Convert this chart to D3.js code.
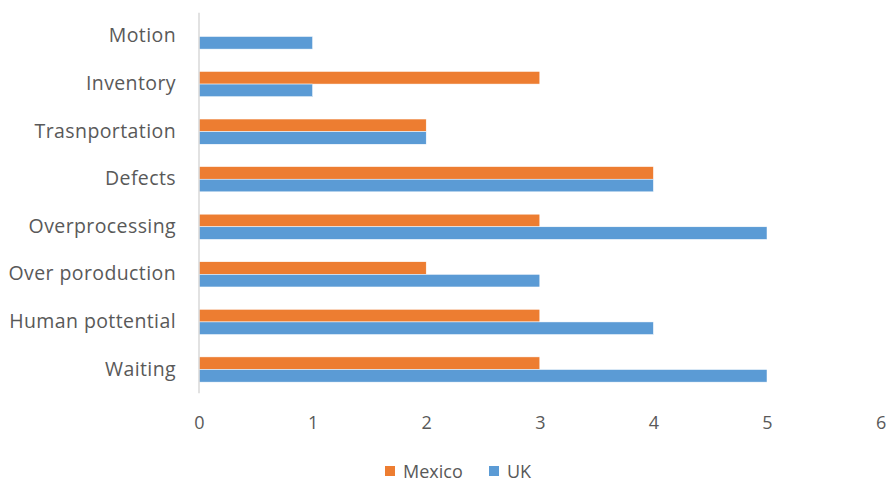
<!DOCTYPE html>
<html><head><meta charset="utf-8">
<script src="https://cdn.jsdelivr.net/npm/d3@7"></script>
<style>body{margin:0;background:#fff;}svg{display:block;font-family:"Open Sans",sans-serif;}</style>
</head><body>
<svg id="c" width="888" height="482"></svg>
<script>
const categories = ["Motion","Inventory","Trasnportation","Defects","Overprocessing","Over poroduction","Human pottential","Waiting"];
const mexico = [0,3,2,4,3,2,3,3];
const uk = [1,1,2,4,5,3,4,5];
const xTicks = [0,1,2,3,4,5,6];
const seriesNames = ["Mexico","UK"];
const colors = {Mexico:"#ED7D31", UK:"#5B9BD5"};

(function(){
const svg = d3.select("#c");
const mL = 199, mR = 880.6, mT = 12.7, mB = 393.3;
const x = d3.scaleLinear().domain([0,6]).range([mL,mR]);
const y = d3.scaleBand().domain(categories).range([mT,mB]).paddingInner(0.47).paddingOuter(0.235);
const ys = d3.scaleBand().domain(seriesNames).range([0,y.bandwidth()]);
const data = {Mexico:mexico, UK:uk};
const textColor = "#595959";

seriesNames.forEach(s=>{
  svg.append("g").selectAll("rect").data(categories).join("rect")
    .attr("x", x(0))
    .attr("y", (c)=>y(c)+ys(s))
    .attr("width",(c,i)=>x(data[s][i])-x(0))
    .attr("height", ys.bandwidth())
    .attr("fill", colors[s])
    .attr("stroke","#fff").attr("stroke-width",0.5);
});

svg.append("line").attr("x1",mL).attr("x2",mL).attr("y1",mT).attr("y2",mB)
  .attr("stroke","#d9d9d9").attr("stroke-width",1.5);

svg.append("g").selectAll("text").data(categories).join("text")
  .attr("x",176).attr("y",c=>y(c)+y.bandwidth()/2-1.5)
  .attr("text-anchor","end").attr("dominant-baseline","central")
  .attr("fill",textColor).attr("font-size",19.5).attr("letter-spacing",0.4).text(d=>d);

const xa = d3.axisBottom(x).tickValues(xTicks).tickFormat(d3.format("d")).tickSize(0).tickPadding(0);
const gx = svg.append("g").attr("transform",`translate(0,${mB+22.5})`).call(xa);
gx.select(".domain").remove();
gx.selectAll("text").attr("fill",textColor).attr("font-size",18).attr("font-family","Open Sans, sans-serif");

const leg = svg.append("g");
const legItems = [{n:"Mexico",x:385},{n:"UK",x:489}];
legItems.forEach(l=>{
  leg.append("rect").attr("x",l.x).attr("y",466).attr("width",10).attr("height",10).attr("fill",colors[l.n]);
  leg.append("text").attr("x",l.x+18).attr("y",471).attr("dominant-baseline","central")
    .attr("fill",textColor).attr("font-size",18).text(l.n);
});
})();
</script>
</body></html>
